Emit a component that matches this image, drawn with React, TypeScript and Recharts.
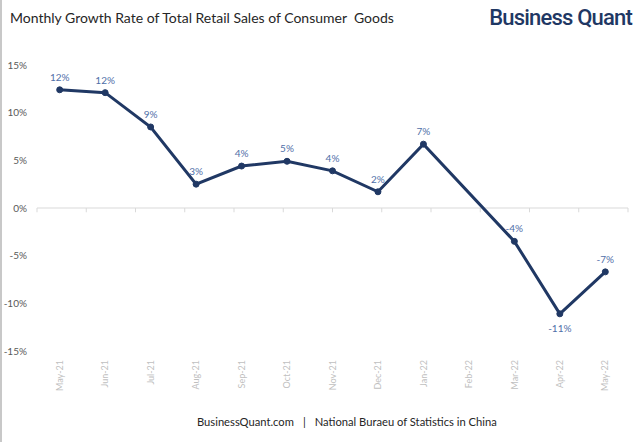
import React from 'react';
import { LineChart, Line, XAxis, YAxis, ReferenceLine, LabelList } from 'recharts';

const months = ['May-21', 'Jun-21', 'Jul-21', 'Aug-21', 'Sep-21', 'Oct-21', 'Nov-21', 'Dec-21', 'Jan-22', 'Feb-22', 'Mar-22', 'Apr-22', 'May-22'];
const growth: (number | null)[] = [12.4, 12.1, 8.5, 2.5, 4.4, 4.9, 3.9, 1.7, 6.7, null, -3.5, -11.1, -6.7];
const yTicks = [-15, -10, -5, 0, 5, 10, 15];
const boundaries = [0, 1, 2, 3, 4, 5, 6, 7, 8, 9, 10, 11, 12, 13];

const data = months.map((m, i) => ({ month: m, growth: growth[i] }));

const FONT = 'Lato, "Open Sans", sans-serif';
const NAVY = '#203864';
const LABEL_BLUE = '#4f6fa8';

const fmtPct = (v: number) => `${Math.sign(v) * Math.round(Math.abs(v))}%`;
const minVal = Math.min(...(growth.filter((g) => g !== null) as number[]));

const XTick = (props: any) => {
  const { x, y, payload } = props;
  return (
    <text
      x={x}
      y={y}
      transform={`rotate(-90 ${x} ${y})`}
      textAnchor="end"
      dy="0.35em"
      fontSize={9}
      fill="#bfbfbf"
      fontFamily={FONT}
    >
      {payload.value}
    </text>
  );
};

const renderLabel = (props: any) => {
  const { x, y, value } = props;
  if (value === null || value === undefined) return null;
  const below = value === minVal;
  return (
    <text
      x={x}
      y={below ? y + 18 : y - 9}
      textAnchor="middle"
      fontSize={10}
      fill={LABEL_BLUE}
      fontFamily={FONT}
    >
      {fmtPct(value)}
    </text>
  );
};

export default function App() {
  return (
    <div style={{ position: 'absolute', left: 0, top: 0, width: 640, height: 442, background: '#fff', overflow: 'hidden' }}>
      <div style={{ position: 'absolute', left: 0, top: 0, width: 2, height: 442, background: '#c8c8c8' }} />
      <div
        style={{
          position: 'absolute',
          left: 10,
          top: 9,
          lineHeight: '18px',
          fontSize: 14,
          fontFamily: FONT,
          color: '#262626',
          whiteSpace: 'pre',
        }}
      >
        Monthly Growth Rate of Total Retail Sales of Consumer  Goods
      </div>
      <div
        style={{
          position: 'absolute',
          right: 8,
          top: 4,
          lineHeight: '28px',
          fontSize: 22,
          fontWeight: 500,
          fontFamily: 'Roboto, sans-serif',
          color: '#1f3864',
          letterSpacing: -0.8,
          whiteSpace: 'pre',
        }}
      >
        Business Quant
      </div>
      <LineChart width={640} height={442} data={data} margin={{ top: 65, right: 12, left: 7, bottom: 0 }}>
        <XAxis
          dataKey="month"
          type="category"
          padding={{ left: 22.7, right: 22.7 }}
          height={91}
          axisLine={false}
          tickLine={false}
          tickSize={0}
          tickMargin={9}
          interval={0}
          tick={<XTick />}
        />
        <XAxis xAxisId="num" type="number" domain={[0, 13]} hide />
        <YAxis
          type="number"
          domain={[-15, 15]}
          ticks={yTicks}
          width={30}
          axisLine={false}
          tickLine={false}
          tickSize={0}
          tickMargin={10}
          tickFormatter={(v: number) => `${v}%`}
          tick={{ fontSize: 10, fill: '#595959', fontFamily: FONT }}
        />
        <ReferenceLine y={0} xAxisId="num" stroke="#d9d9d9" strokeWidth={1} />
        {boundaries.map((b) => (
          <ReferenceLine
            key={b}
            xAxisId="num"
            segment={[{ x: b, y: 0 }, { x: b, y: -0.45 }]}
            stroke="#d9d9d9"
            strokeWidth={1}
          />
        ))}
        <Line
          type="linear"
          dataKey="growth"
          stroke={NAVY}
          strokeWidth={3}
          connectNulls
          dot={{ r: 3, fill: NAVY, stroke: NAVY, strokeWidth: 1 }}
          isAnimationActive={false}
        >
          <LabelList dataKey="growth" content={renderLabel} />
        </Line>
      </LineChart>
      <div
        style={{
          position: 'absolute',
          left: 197,
          top: 414,
          lineHeight: '16px',
          fontSize: 11.2,
          fontFamily: FONT,
          color: '#262626',
          whiteSpace: 'pre',
        }}
      >
        <span>BusinessQuant.com</span>
        <span style={{ margin: '0 9px' }}>|</span>
        <span>National Buraeu of Statistics in China</span>
      </div>
    </div>
  );
}
